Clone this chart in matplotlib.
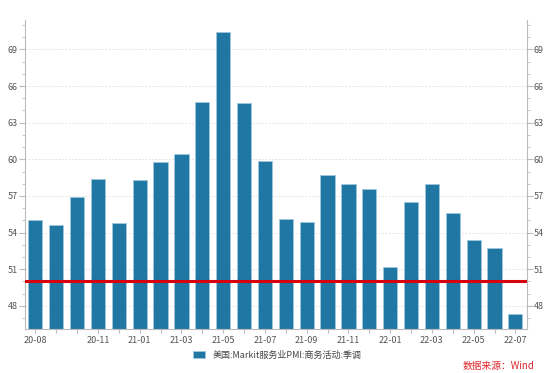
import numpy as np
import matplotlib.pyplot as plt
from matplotlib.ticker import MultipleLocator

plt.rcParams['font.family'] = ['Noto Sans CJK SC', 'DejaVu Sans']

# --- data ---
months = ["20-08", "20-09", "20-10", "20-11", "20-12", "21-01", "21-02", "21-03",
          "21-04", "21-05", "21-06", "21-07", "21-08", "21-09", "21-10", "21-11",
          "21-12", "22-01", "22-02", "22-03", "22-04", "22-05", "22-06", "22-07"]
pmi = [55.0, 54.6, 56.9, 58.4, 54.8, 58.3, 59.8, 60.4, 64.7, 70.4, 64.6, 59.9,
       55.1, 54.9, 58.7, 58.0, 57.6, 51.2, 56.5, 58.0, 55.6, 53.4, 52.7, 47.3]
shown_labels = ["20-08", "20-11", "21-01", "21-03", "21-05", "21-07", "21-09",
                "21-11", "22-01", "22-03", "22-05", "22-07"]
threshold = 50
series_name = "美国:Markit服务业PMI:商务活动:季调"

ymin, ymax = 46.1, 71.4
bar_color = "#2177a4"
axis_gray = "#bbbbbb"

fig = plt.figure(figsize=(5.54, 3.73), dpi=100)
ax = fig.add_axes([0.045, 0.118, 0.906, 0.828])

x = np.arange(len(months))
ax.bar(x, np.array(pmi) - ymin, bottom=ymin, width=0.68, color=bar_color,
       edgecolor="#9fc8de", linewidth=0.6, label=series_name, zorder=2)
ax.axhline(threshold, color="#d7000f", linewidth=2.2, zorder=3)

ax.set_xlim(-0.5, len(months) - 0.45)
ax.set_ylim(ymin, ymax)

ax.set_xticks(x)
ax.set_xticklabels([m if m in shown_labels else "" for m in months])
ax.yaxis.set_major_locator(MultipleLocator(3))
ax.yaxis.set_minor_locator(MultipleLocator(1))
ax.set_yticks(np.arange(48, 70, 3))

ax.tick_params(axis="y", which="both", left=True, right=True, labelleft=True,
               labelright=True, colors=axis_gray, labelcolor="#555555",
               labelsize=6.5, pad=1)
ax.tick_params(axis="y", which="major", length=4)
ax.tick_params(axis="y", which="minor", length=2.5)
ax.tick_params(axis="x", colors=axis_gray, labelcolor="#555555", labelsize=6.5,
               length=3, pad=2)

ax.grid(axis="y", which="major", linestyle=(0, (2, 2)), color="#dddddd",
        linewidth=0.6, zorder=0)

for side in ["left", "right", "bottom"]:
    ax.spines[side].set_color(axis_gray)
    ax.spines[side].set_linewidth(0.8)
ax.spines["top"].set_visible(False)

fig.legend(loc="center", bbox_to_anchor=(0.5, 0.048), frameon=False,
           fontsize=6.5, handlelength=1.4, handleheight=0.9, labelcolor="#444444")
fig.text(0.965, 0.018, "数据来源：Wind", color="#e0262e", fontsize=7, ha="right",
         va="center")

fig.savefig("out.png", dpi=100)
